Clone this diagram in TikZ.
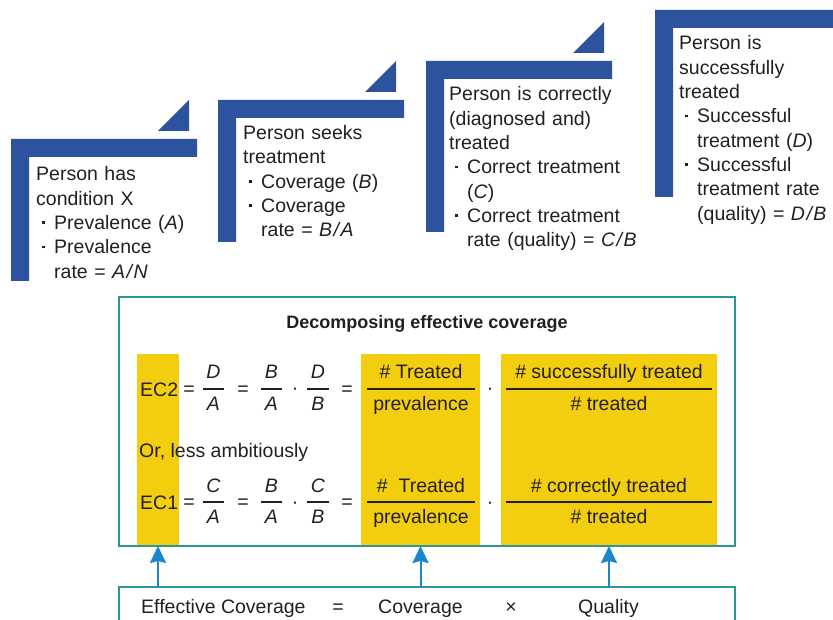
\documentclass[tikz,border=0pt]{standalone}
\usepackage{fontspec}
\setmainfont{Liberation Sans}
\usepackage{tikz}
\usetikzlibrary{positioning, arrows.meta, calc}
\definecolor{stepblue}{HTML}{2E539E}
\definecolor{ecyellow}{HTML}{F3CE0E}
\definecolor{ecteal}{HTML}{2C9596}
\definecolor{arrowblue}{HTML}{1C85CB}
\definecolor{inkgray}{HTML}{231F20}
\tikzstyle{steptext} = [anchor=base west, inner sep=0pt, text width=230pt, align=left, text=inkgray, font=\fontsize{19.5}{24.3}\selectfont]
\tikzstyle{eq} = [inner sep=0pt, text=inkgray, font=\fontsize{19.5}{24.3}\selectfont]
\tikzstyle{tealbox} = [rectangle, draw=ecteal, line width=2.2pt, inner sep=0pt, outer sep=0pt, anchor=north west]
\tikzstyle{ycol} = [rectangle, fill=ecyellow, inner sep=0pt, outer sep=0pt, anchor=north west, minimum height=192pt]
\tikzstyle{fracbar} = [draw=inkgray, line width=1.3pt]
\tikzstyle{up} = [draw=arrowblue, line width=2pt, -{Stealth[length=17pt, width=16pt, inset=2pt]}]

\newcommand{\stepbul}{\makebox[18pt][l]{\hspace{6pt}\raisebox{5.5pt}{\rule{2.6pt}{2.6pt}}}}
\newcommand{\stepind}{\hspace*{18pt}}
\newcommand{\ratioslash}{\kern1.5pt/\kern1.5pt}
% name, x, bar y, half width, numerator, denominator
\newcommand{\efrac}[6]{%
  \node[eq, anchor=base] (#1-num) at (#2,#3-10) {#5};
  \node[eq, anchor=base] (#1-den) at (#2,#3+21) {#6};
  \draw[fracbar] (#2-#4,#3) -- (#2+#4,#3);}

\begin{document}
\begin{tikzpicture}[x=1pt, y=-1pt]
        \useasboundingbox (0,0) rectangle (833,620);

        % Steps
        \foreach \bx/\by/\bb in {11/139/281, 218/100/242, 426/61/232}{
          \fill[stepblue] (\bx,\bb) -- (\bx,\by) -- ++(186,0) -- ++(0,18) -- (\bx+18,\by+18) -- (\bx+18,\bb) -- cycle;
          \fill[stepblue] (\bx+147,\by-8) -- (\bx+178,\by-39) -- (\bx+178,\by-8) -- cycle;
        }
        \fill[stepblue] (655,197) -- (655,10) -- (840,10) -- (840,28) -- (673,28) -- (673,197) -- cycle;

        \node (step1) [steptext] at (36,181) {Person has\\condition X\\\stepbul Prevalence (\textit{A})\\\stepbul Prevalence\\\stepind rate = \textit{A\ratioslash N}};
        \node (step2) [steptext] at (243,139.5) {Person seeks\\treatment\\\stepbul Coverage (\textit{B})\\\stepbul Coverage\\\stepind rate = \textit{B\ratioslash A}};
        \node (step3) [steptext] at (449,101) {Person is correctly\\(diagnosed and)\\treated\\\stepbul Correct treatment\\\stepind(\textit{C})\\\stepbul Correct treatment\\\stepind rate (quality) = \textit{C\ratioslash B}};
        \node (step4) [steptext] at (679,50) {Person is\\successfully\\treated\\\stepbul Successful\\\stepind treatment (\textit{D})\\\stepbul Successful\\\stepind treatment rate\\\stepind (quality) = \textit{D\ratioslash B}};

        % Decomposition box
        \node (ycol1) [ycol, minimum width=42pt] at (137,354) {};
        \node (ycol2) [ycol, minimum width=119pt] at (361,354) {};
        \node (ycol3) [ycol, minimum width=216pt] at (501,354) {};
        \node (decomp) [tealbox, minimum width=616pt, minimum height=249pt] at (119,297) {};
        \node (title) [eq, anchor=base, font=\fontsize{18}{22}\selectfont\bfseries] at (427,329) {Decomposing effective coverage};

        % EC2 row
        \node (ec2) [eq, anchor=base west] at (140,396) {EC2};
        \node (ec2-eqa) [eq, anchor=base] at (189,395.5) {=};
        \efrac{ec2-da}{213.5}{389}{10.5}{\textit{D}}{\textit{A}}
        \node (ec2-eqb) [eq, anchor=base] at (243,395.5) {=};
        \efrac{ec2-ba}{271.5}{389}{10.5}{\textit{B}}{\textit{A}}
        \node (ec2-dota) [eq, anchor=base] at (295,395) {·};
        \efrac{ec2-db}{318}{389}{11}{\textit{D}}{\textit{B}}
        \node (ec2-eqc) [eq, anchor=base] at (347,395.5) {=};
        \efrac{ec2-cov}{421}{389}{54}{\# Treated}{prevalence}
        \node (ec2-dotb) [eq, anchor=base] at (490,395) {·};
        \efrac{ec2-qual}{609}{389}{103}{\# successfully treated}{\# treated}

        \node (orless) [eq, anchor=base west] at (139,457) {Or, less ambitiously};

        % EC1 row
        \node (ec1) [eq, anchor=base west] at (140,509) {EC1};
        \node (ec1-eqa) [eq, anchor=base] at (189,508.5) {=};
        \efrac{ec1-ca}{213.5}{502}{10.5}{\textit{C}}{\textit{A}}
        \node (ec1-eqb) [eq, anchor=base] at (243,508.5) {=};
        \efrac{ec1-ba}{271.5}{502}{10.5}{\textit{B}}{\textit{A}}
        \node (ec1-dota) [eq, anchor=base] at (295,508) {·};
        \efrac{ec1-cb}{318}{502}{11}{\textit{C}}{\textit{B}}
        \node (ec1-eqc) [eq, anchor=base] at (347,508.5) {=};
        \efrac{ec1-cov}{421}{502}{54}{\#\ \ Treated}{prevalence}
        \node (ec1-dotb) [eq, anchor=base] at (490,508) {·};
        \efrac{ec1-qual}{609}{502}{103}{\# correctly treated}{\# treated}

        % Effective coverage box
        \node (effbox) [tealbox, minimum width=616pt, minimum height=60pt] at (119,587) {};
        \node (efftext) [eq, anchor=base west] at (141,613) {Effective Coverage};
        \node (effeq) [eq, anchor=base] at (338,613) {=};
        \node (efcov) [eq, anchor=base west] at (378,613) {Coverage};
        \node (efftimes) [eq, anchor=base] at (511,613) {×};
        \node (effqual) [eq, anchor=base west] at (578,613) {Quality};

        % Edges
        \draw [up] (effbox.north -| ycol1.south) -- (ycol1.south);
        \draw [up] (effbox.north -| ycol2.south) -- (ycol2.south);
        \draw [up] (effbox.north -| ycol3.south) -- (ycol3.south);

    \end{tikzpicture}
\end{document}
